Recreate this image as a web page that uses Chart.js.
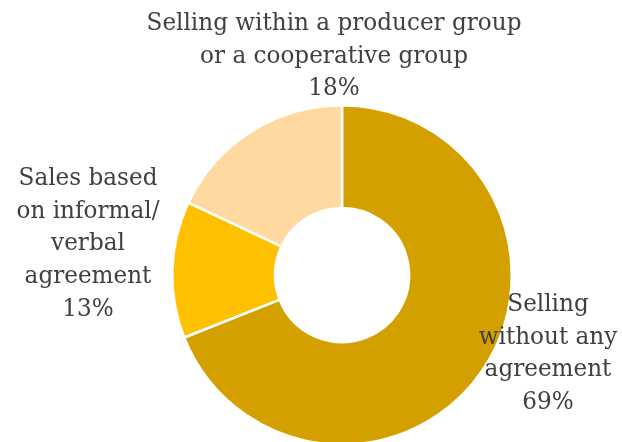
<!DOCTYPE html>
<html>
<head>
<meta charset="utf-8">
<script src="https://cdn.jsdelivr.net/npm/chart.js@4"></script>
<style>
  html, body { margin: 0; padding: 0; background: #ffffff; overflow: hidden; }
  #wrap { position: relative; width: 622px; height: 450px; }
</style>
</head>
<body>
<div id="wrap"><canvas id="chart" width="622" height="450"></canvas></div>
<script>
// Sales channels and their shares (percent)
const categories = [
  ['Selling', 'without any', 'agreement'],
  ['Sales based', 'on informal/', 'verbal', 'agreement'],
  ['Selling within a producer group', 'or a cooperative group']
];
const shares = [69, 13, 18];
const sliceColors = ['#D4A000', '#FFC000', '#FFD9A0'];

// Where each multi-line label is centred (x) and the baseline of its first line
const labelPlacement = [
  { x: 548, y: 311 },
  { x: 88, y: 185 },
  { x: 334, y: 30 }
];
const LINE_GAP = 32.7;
const FONT = '25px "DejaVu Serif", serif';
const X_SQUEEZE = 0.925;

const labelPlugin = {
  id: 'sliceLabels',
  afterDraw(chart) {
    const ctx = chart.ctx;
    const values = chart.data.datasets[0].data;
    ctx.save();
    ctx.font = FONT;
    ctx.fillStyle = '#404040';
    ctx.textAlign = 'center';
    ctx.textBaseline = 'alphabetic';
    chart.data.labels.forEach((lines, i) => {
      const p = labelPlacement[i];
      const all = lines.concat([values[i] + '%']);
      all.forEach((t, k) => {
        ctx.save();
        ctx.translate(p.x, p.y + k * LINE_GAP);
        ctx.scale(X_SQUEEZE, 1);
        ctx.fillText(t, 0, 0);
        ctx.restore();
      });
    });
    ctx.restore();
  }
};

new Chart(document.getElementById('chart'), {
  type: 'doughnut',
  data: {
    labels: categories,
    datasets: [{
      data: shares,
      backgroundColor: sliceColors,
      borderColor: '#ffffff',
      borderWidth: 2.5
    }]
  },
  options: {
    responsive: false,
    animation: false,
    cutout: '39.5%',
    layout: { padding: { left: 171, right: 109, top: 104, bottom: 4 } },
    plugins: {
      legend: { display: false },
      tooltip: { enabled: false }
    }
  },
  plugins: [labelPlugin]
});
</script>
</body>
</html>
